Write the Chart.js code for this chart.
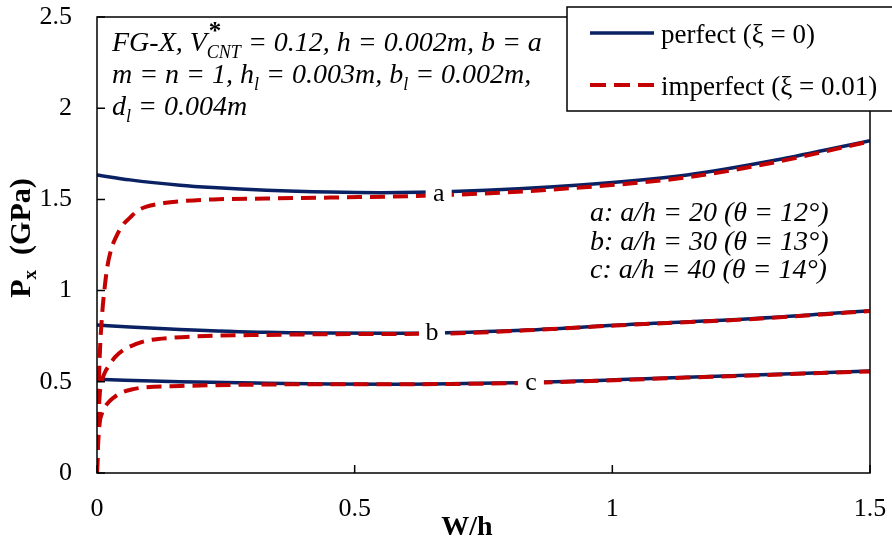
<!DOCTYPE html>
<html>
<head>
<meta charset="utf-8">
<script src="https://cdn.jsdelivr.net/npm/chart.js@4.4.1/dist/chart.umd.min.js"></script>
<style>
  html, body { margin: 0; padding: 0; background: #fff; }
  #wrap { width: 892px; height: 543px; }
</style>
</head>
<body>
<div id="wrap"><canvas id="chart" width="892" height="543"></canvas></div>
<script>
// values (W/h on x, Px in GPa on y)
var seriesNames = ['perfect (\u03be = 0)', 'imperfect (\u03be = 0.01)'];
var curveNames = ['a', 'b', 'c'];
var xTickLabels = ['0', '0.5', '1', '1.5'];
var yTickLabels = ['0', '0.5', '1', '1.5', '2', '2.5'];

var whPerfectA = [0, 0.064, 0.161, 0.225, 0.329, 0.452, 0.55, 0.69, 0.937, 1.145, 1.318, 1.5];
var pxPerfectA = [1.634, 1.607, 1.578, 1.565, 1.550, 1.540, 1.537, 1.543, 1.579, 1.634, 1.716, 1.822];
var whImperfA = [0, 0.002, 0.005, 0.01, 0.015, 0.02, 0.028, 0.038, 0.05, 0.064, 0.08, 0.096, 0.13, 0.161, 0.225, 0.329, 0.452, 0.69, 0.937, 1.145, 1.318, 1.5];
var pxImperfA = [0, 0.30, 0.62, 0.87, 1.02, 1.13, 1.23, 1.30, 1.36, 1.40, 1.44, 1.46, 1.48, 1.49, 1.50, 1.505, 1.51, 1.525, 1.565, 1.621, 1.705, 1.818];

var whPerfectB = [0, 0.064, 0.161, 0.329, 0.452, 0.6, 0.833, 1.006, 1.283, 1.5];
var pxPerfectB = [0.811, 0.800, 0.787, 0.771, 0.767, 0.766, 0.784, 0.810, 0.848, 0.890];
var whImperfB = [0, 0.002, 0.005, 0.01, 0.016, 0.022, 0.035, 0.051, 0.075, 0.096, 0.148, 0.212, 0.329, 0.452, 0.68, 0.833, 1.006, 1.283, 1.5];
var pxImperfB = [0, 0.22, 0.42, 0.51, 0.555, 0.583, 0.635, 0.674, 0.706, 0.725, 0.742, 0.751, 0.757, 0.761, 0.765, 0.782, 0.809, 0.846, 0.888];

var whPerfectC = [0, 0.161, 0.329, 0.452, 0.6, 0.85, 1.145, 1.5];
var pxPerfectC = [0.514, 0.500, 0.492, 0.488, 0.487, 0.497, 0.525, 0.559];
var whImperfC = [0, 0.002, 0.005, 0.01, 0.02, 0.033, 0.051, 0.07, 0.096, 0.161, 0.329, 0.452, 0.6, 0.85, 1.145, 1.5];
var pxImperfC = [0, 0.15, 0.27, 0.33, 0.38, 0.415, 0.445, 0.46, 0.47, 0.477, 0.485, 0.487, 0.487, 0.495, 0.523, 0.557];

var SERIF = '"Liberation Serif", "Times New Roman", serif';
var NAVY = '#0a2263';
var RED = '#c40000';
var DASH = [15, 8];

function pts(xs, ys) {
    return xs.map(function (x, i) { return { x: x, y: ys[i] }; });
}

function perfectSet(xs, ys) {
    return { data: pts(xs, ys), borderColor: NAVY, borderWidth: 3.5, order: 2,
        showLine: true, pointRadius: 0, cubicInterpolationMode: 'monotone' };
}
function imperfSet(xs, ys) {
    return { data: pts(xs, ys), borderColor: RED, borderWidth: 4, borderDash: DASH, order: 1,
        showLine: true, pointRadius: 0, cubicInterpolationMode: 'monotone' };
}

// where the curve letters sit (data units)
var curveLabelPos = [[0.663, 1.53], [0.650, 0.766], [0.842, 0.49]];

// draws a line of text with sub/superscripts
function richText(ctx, x, y, parts, size, style) {
    var cx = x;
    parts.forEach(function (p) {
        var t = p[0], kind = p[1] || 'n';
        if (kind === 'n') {
            ctx.font = style + ' ' + size + 'px ' + SERIF;
            ctx.fillText(t, cx, y);
            cx += ctx.measureText(t).width;
        } else if (kind === 'sub') {
            ctx.font = style + ' ' + Math.round(size * 0.65) + 'px ' + SERIF;
            ctx.fillText(t, cx, y + size * 0.25);
            cx += ctx.measureText(t).width;
        } else if (kind === 'starsub') {
            ctx.font = 'bold ' + Math.round(size * 0.9) + 'px ' + SERIF;
            ctx.fillText('*', cx + 2, y - size * 0.42);
            ctx.font = style + ' ' + Math.round(size * 0.65) + 'px ' + SERIF;
            ctx.fillText(t, cx, y + size * 0.25);
            cx += ctx.measureText(t).width;
        }
    });
    return cx;
}

var deco = {
    id: 'deco',
    afterDatasetsDraw: function (chart) {
        var ctx = chart.ctx;
        var a = chart.chartArea;
        var xs = chart.scales.x, ys = chart.scales.y;
        ctx.save();

        // frame and inward ticks
        ctx.strokeStyle = '#000';
        ctx.lineWidth = 1.5;
        ctx.strokeRect(a.left, a.top, a.right - a.left, a.bottom - a.top);
        ctx.beginPath();
        xs.ticks.forEach(function (t) {
            var px = xs.getPixelForValue(t.value);
            ctx.moveTo(px, a.bottom); ctx.lineTo(px, a.bottom - 8);
        });
        ys.ticks.forEach(function (t) {
            var py = ys.getPixelForValue(t.value);
            ctx.moveTo(a.left, py); ctx.lineTo(a.left + 8, py);
        });
        ctx.stroke();

        // curve letters on white patches
        ctx.font = '26px ' + SERIF;
        ctx.textAlign = 'center';
        ctx.textBaseline = 'middle';
        curveNames.forEach(function (n, i) {
            var px = xs.getPixelForValue(curveLabelPos[i][0]);
            var py = ys.getPixelForValue(curveLabelPos[i][1]);
            ctx.fillStyle = '#fff';
            ctx.fillRect(px - 13, py - 12, 26, 22);
            ctx.fillStyle = '#000';
            ctx.fillText(n, px, py);
        });

        // parameter note, top left
        ctx.textAlign = 'left';
        ctx.textBaseline = 'alphabetic';
        ctx.fillStyle = '#000';
        var fs = 28;
        richText(ctx, 112, 51, [['FG-X, V'], ['CNT', 'starsub'], [' = 0.12, h = 0.002m, b = a']], fs, 'italic');
        richText(ctx, 112, 83, [['m = n = 1, h'], ['l', 'sub'], [' = 0.003m, b'], ['l', 'sub'], [' = 0.002m,']], fs, 'italic');
        richText(ctx, 112, 115, [['d'], ['l', 'sub'], [' = 0.004m']], fs, 'italic');

        // a/h cases
        ctx.font = 'italic 28px ' + SERIF;
        ctx.fillText('a: a/h = 20 (\u03b8 = 12\u00b0)', 590, 221);
        ctx.fillText('b: a/h = 30 (\u03b8 = 13\u00b0)', 590, 250);
        ctx.fillText('c: a/h = 40 (\u03b8 = 14\u00b0)', 590, 278);

        // legend box
        ctx.fillStyle = '#fff';
        ctx.fillRect(567, 7, 340, 104);
        ctx.strokeStyle = '#000';
        ctx.lineWidth = 1.5;
        ctx.strokeRect(567, 7, 340, 104);
        ctx.lineWidth = 3.5;
        ctx.strokeStyle = NAVY;
        ctx.beginPath(); ctx.moveTo(590, 33); ctx.lineTo(654, 33); ctx.stroke();
        ctx.lineWidth = 4;
        ctx.strokeStyle = RED;
        ctx.setLineDash([16, 8]);
        ctx.beginPath(); ctx.moveTo(590, 85); ctx.lineTo(654, 85); ctx.stroke();
        ctx.setLineDash([]);
        ctx.fillStyle = '#000';
        ctx.font = '27px ' + SERIF;
        ctx.fillText(seriesNames[0], 661, 43);
        ctx.fillText(seriesNames[1], 661, 95);

        // axis titles
        ctx.font = 'bold 28px ' + SERIF;
        ctx.textAlign = 'center';
        ctx.fillText('W/h', 467, 535);
        ctx.save();
        ctx.translate(30, 238);
        ctx.rotate(-Math.PI / 2);
        ctx.font = 'bold 30px ' + SERIF;
        var w1 = ctx.measureText('P').width;
        ctx.font = 'bold 19px ' + SERIF;
        var w2 = ctx.measureText('x').width;
        ctx.font = 'bold 30px ' + SERIF;
        var w3 = ctx.measureText('  (GPa)').width;
        var sx = -(w1 + w2 + w3) / 2;
        ctx.textAlign = 'left';
        ctx.fillText('P', sx, 0);
        ctx.font = 'bold 19px ' + SERIF;
        ctx.fillText('x', sx + w1, 6);
        ctx.font = 'bold 30px ' + SERIF;
        ctx.fillText('  (GPa)', sx + w1 + w2, 0);
        ctx.restore();

        ctx.restore();
    }
};

function noPad(s) {
    s.paddingLeft = 0; s.paddingRight = 0; s.paddingTop = 0; s.paddingBottom = 0;
}

new Chart(document.getElementById('chart').getContext('2d'), {
    type: 'scatter',
    data: {
        datasets: [
            perfectSet(whPerfectA, pxPerfectA),
            imperfSet(whImperfA, pxImperfA),
            perfectSet(whPerfectB, pxPerfectB),
            imperfSet(whImperfB, pxImperfB),
            perfectSet(whPerfectC, pxPerfectC),
            imperfSet(whImperfC, pxImperfC)
        ]
    },
    options: {
        responsive: false,
        animation: false,
        events: [],
        layout: { padding: { left: 0, top: 17, right: 22, bottom: 0 } },
        plugins: { legend: { display: false }, tooltip: { enabled: false } },
        scales: {
            x: {
                type: 'linear', min: 0, max: 1.5,
                grid: { display: false },
                border: { display: false },
                ticks: {
                    stepSize: 0.5, padding: 13, color: '#000', maxRotation: 0,
                    font: { family: SERIF, size: 26 },
                    callback: function (v, i) { return xTickLabels[i]; }
                },
                afterFit: function (s) { s.height = 70; noPad(s); }
            },
            y: {
                type: 'linear', min: 0, max: 2.5,
                grid: { display: false },
                border: { display: false },
                ticks: {
                    stepSize: 0.5, padding: 17, color: '#000',
                    font: { family: SERIF, size: 26 },
                    callback: function (v, i) { return yTickLabels[i]; }
                },
                afterFit: function (s) { s.width = 97; noPad(s); }
            }
        }
    },
    plugins: [deco]
});
</script>
</body>
</html>
